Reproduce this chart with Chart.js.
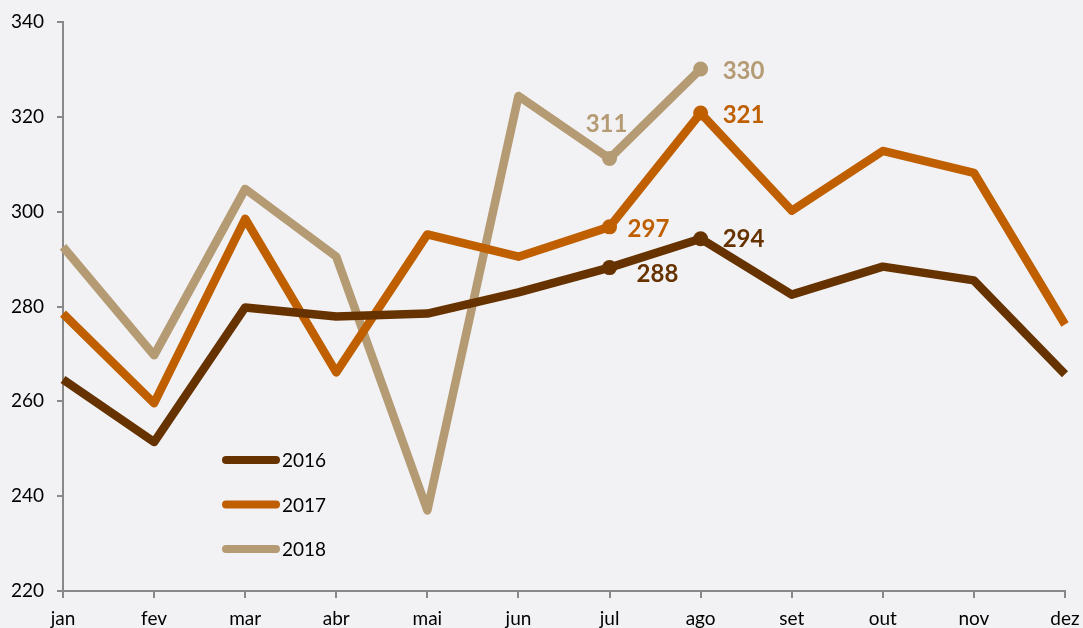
<!DOCTYPE html>
<html>
<head>
<meta charset="utf-8">
<script src="https://cdn.jsdelivr.net/npm/chart.js@4"></script>
<style>
  html, body { margin: 0; padding: 0; background: #f2f2f4; }
  #wrap { width: 1083px; height: 628px; }
</style>
</head>
<body>
<div id="wrap"><canvas id="chart"></canvas></div>
<script>
const months = ['jan', 'fev', 'mar', 'abr', 'mai', 'jun', 'jul', 'ago', 'set', 'out', 'nov', 'dez'];
const v2016 = [264.6, 251.4, 279.8, 277.9, 278.5, 283, 288.2, 294.3, 282.5, 288.4, 285.5, 265.7];
const v2017 = [278.5, 259.6, 298.5, 266.1, 295.2, 290.5, 296.8, 320.8, 300.2, 312.8, 308.2, 276.2];
const v2018 = [292.6, 269.7, 304.8, 290.5, 237, 324.4, 311.2, 330.1];
const marked = [6, 7]; // jul, ago get a dot and a label

const colors = ['#663300', '#bf5f00', '#b59b74'];
const font = 'Lato, "Open Sans", sans-serif';

// label offsets per dataset / point index
const labelPos = {
  0: {6: [27, 7, 'left'], 7: [22, 1, 'left']},
  1: {6: [18, 2, 'left'], 7: [22, 2, 'left']},
  2: {6: [-3, -34, 'center'], 7: [22, 2, 'left']}
};

const valueLabels = {
  id: 'valueLabels',
  afterDatasetsDraw(chart) {
    const ctx = chart.ctx;
    ctx.save();
    ctx.font = 'bold 24px ' + font;
    ctx.textBaseline = 'middle';
    chart.data.datasets.forEach((ds, di) => {
      const meta = chart.getDatasetMeta(di);
      marked.forEach(i => {
        const pt = meta.data[i];
        const [dx, dy, align] = labelPos[di][i];
        ctx.fillStyle = colors[di];
        ctx.textAlign = align;
        ctx.fillText(Math.round(ds.data[i]), pt.x + dx, pt.y + dy);
      });
    });
    ctx.restore();
  }
};

const innerLegend = {
  id: 'innerLegend',
  afterDraw(chart) {
    const ctx = chart.ctx;
    ctx.save();
    chart.data.datasets.forEach((ds, di) => {
      const y = 460 + di * 44.5;
      ctx.strokeStyle = colors[di];
      ctx.lineWidth = 8;
      ctx.lineCap = 'round';
      ctx.beginPath();
      ctx.moveTo(226, y);
      ctx.lineTo(276, y);
      ctx.stroke();
      ctx.fillStyle = '#000';
      ctx.font = '19px ' + font;
      ctx.textAlign = 'left';
      ctx.textBaseline = 'middle';
      ctx.fillText(ds.label, 282, y + 1);
    });
    ctx.restore();
  }
};

function series(label, data, color) {
  return {
    label: label,
    data: data,
    borderColor: color,
    backgroundColor: color,
    borderWidth: 8.5,
    borderJoinStyle: 'round',
    borderCapStyle: 'butt',
    tension: 0,
    fill: false,
    pointRadius: ctx => marked.includes(ctx.dataIndex) ? 7.5 : 0,
    pointHoverRadius: 0,
    pointBorderWidth: 0
  };
}

new Chart(document.getElementById('chart'), {
  type: 'line',
  data: {
    labels: months,
    datasets: [
      series('2016', v2016, colors[0]),
      series('2017', v2017, colors[1]),
      series('2018', v2018, colors[2])
    ]
  },
  options: {
    responsive: true,
    maintainAspectRatio: false,
    animation: false,
    events: [],
    layout: { padding: { top: 22, right: 18, left: 0, bottom: 0 } },
    plugins: {
      legend: { display: false },
      tooltip: { enabled: false }
    },
    scales: {
      x: {
        offset: false,
        grid: {
          display: true,
          drawOnChartArea: false,
          drawTicks: true,
          tickLength: 7,
          color: '#888',
          lineWidth: 2
        },
        border: { display: true, color: '#888', width: 2 },
        ticks: {
          color: '#000',
          font: { family: font, size: 19 },
          padding: 9,
          maxRotation: 0,
          autoSkip: false
        },
        afterFit: s => { s.height = 37; s.paddingRight = 0; s.paddingLeft = 0; }
      },
      y: {
        min: 220,
        max: 340,
        grid: {
          display: true,
          drawOnChartArea: false,
          drawTicks: true,
          tickLength: 6,
          color: '#888',
          lineWidth: 2
        },
        border: { display: true, color: '#888', width: 2 },
        ticks: {
          stepSize: 20,
          color: '#000',
          font: { family: font, size: 19 },
          padding: 13
        },
        afterFit: s => { s.width = 63; s.paddingTop = 0; s.paddingBottom = 0; }
      }
    }
  },
  plugins: [valueLabels, innerLegend]
});
</script>
</body>
</html>
